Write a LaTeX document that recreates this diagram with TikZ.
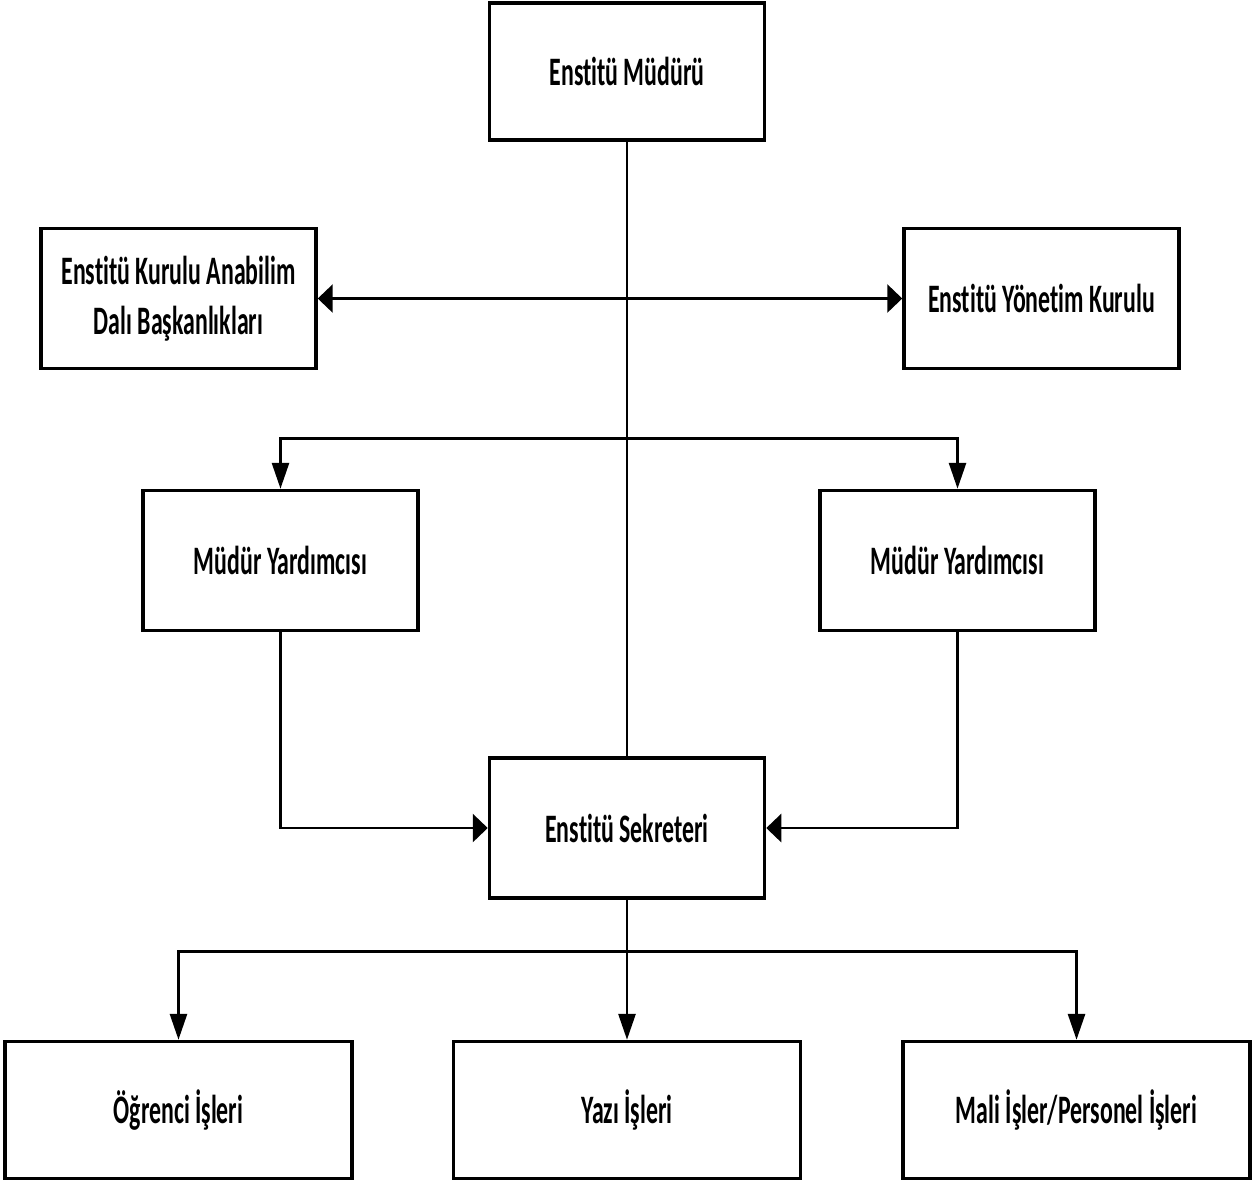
\documentclass[tikz,border=0pt]{standalone}
\usepackage{fontspec}
\setmainfont{Carlito}[FakeStretch=0.59, Ligatures=NoCommon]
\usepackage{tikz}
\usetikzlibrary{arrows.meta,positioning,calc}

\begin{document}
\begin{tikzpicture}[
    font=\fontsize{23}{28.5}\selectfont\bfseries,
    every node/.style = {align=center},
    unit/.style   = {draw, rectangle, line width=2pt, minimum width=55mm,
                     minimum height=28mm, inner sep=2pt},
    office/.style = {unit, minimum width=69.4mm, minimum height=27.4mm},
    link/.style   = {line width=1.6pt},
    varr/.style   = {link, -{Triangle[length=5.2mm, width=3.4mm]}},
    harr/.style   = {link, -{Triangle[length=3mm, width=5.6mm]}},
    dharr/.style  = {link, {Triangle[length=3mm, width=5.6mm]}-{Triangle[length=3mm, width=5.6mm]}},
]
\useasboundingbox (0,0) rectangle (25.12,-23.6);

% ---------------- Top ----------------
\node[unit, minimum height=27.4mm] (mudur) at (12.54,-1.43) {Enstitü Müdürü};

% ---------------- Boards ----------------
\node[unit, below left=17mm and 34mm of mudur]    (kurul)   {Enstitü Kurulu Anabilim\\Dalı Başkanlıkları};
\node[unit, below right=17mm and 27.2mm of mudur] (yonetim) {Enstitü Yönetim Kurulu};

% ---------------- Secretary and deputies ----------------
\node[unit, below=122.9mm of mudur] (sekreter) {Enstitü Sekreteri};
\node[unit, above left=24.8mm and 13.6mm of sekreter]  (yard1) {Müdür Yardımcısı};
\node[unit, above right=24.8mm and 10.4mm of sekreter] (yard2) {Müdür Yardımcısı};

% ---------------- Offices ----------------
\node[office, below=28mm of sekreter] (yazi)    {Yazı İşleri};
\node[office, left=19.6mm of yazi]    (ogrenci) {Öğrenci İşleri};
\node[office, right=19.8mm of yazi]   (mali)    {Mali İşler/Personel İşleri};

% ---------------- Connectors ----------------
\draw[link] (mudur.south) -- (sekreter.north);
\draw[dharr] (kurul.east) -- (yonetim.west);

\coordinate (mj) at ($(yard1.north -| mudur.south)+(0,1)$);
\draw[varr] (mj) -| (yard1.north);
\draw[varr] (mj) -| (yard2.north);

\draw[harr] (yard1.south) |- (sekreter.west);
\draw[harr] (yard2.south) |- (sekreter.east);

\coordinate (sj) at ($(sekreter.south)+(0,-1.04)$);
\draw[link] (sekreter.south) -- (sj);
\draw[varr] (sj) -| (ogrenci.north);
\draw[varr] (sj) -- (yazi.north);
\draw[varr] (sj) -| (mali.north);

\end{tikzpicture}
\end{document}
